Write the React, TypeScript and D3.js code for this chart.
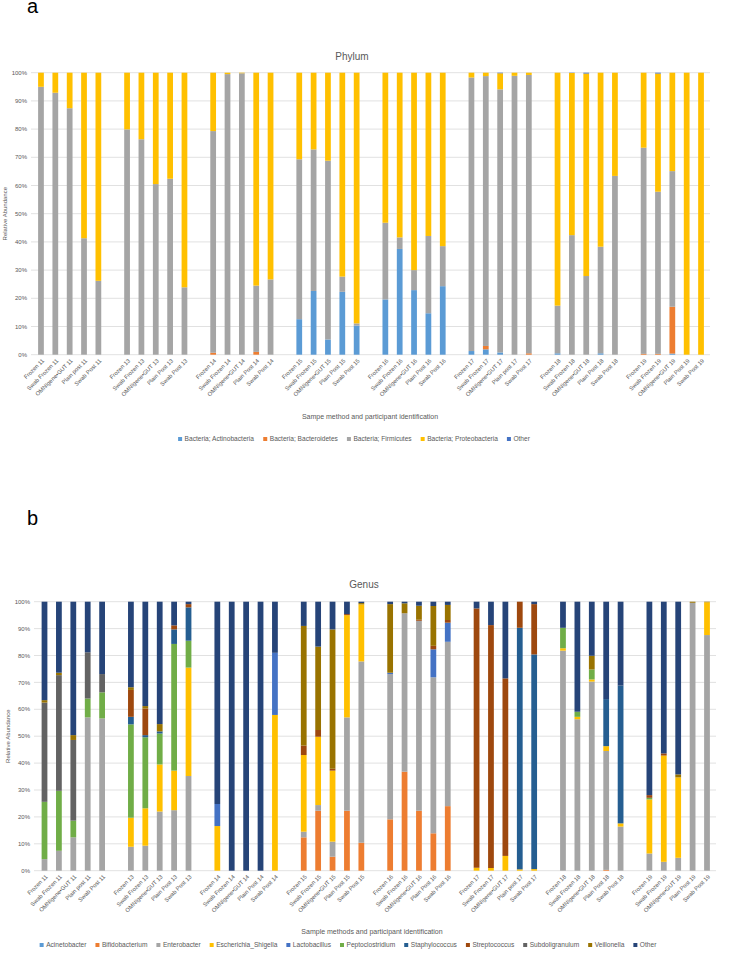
import React from 'react';
import * as d3 from 'd3';

// ---------- categories ----------
const participants = ['11', '13', '14', '15', '16', '17', '18', '19'];
const sampleLabels = [
  'Frozen 11', 'Swab Frozen 11', 'OMNIgene•GUT 11', 'Plain post 11', 'Swab Post 11',
  'Frozen 13', 'Swab Frozen 13', 'OMNIgene•GUT 13', 'Plain Post 13', 'Swab Post 13',
  'Frozen 14', 'Swab Frozen 14', 'OMNIgene•GUT 14', 'Plain Post 14', 'Swab Post 14',
  'Frozen 15', 'Swab Frozen 15', 'OMNIgene•GUT 15', 'Plain Post 15', 'Swab Post 15',
  'Frozen 16', 'Swab Frozen 16', 'OMNIgene•GUT 16', 'Plain Post 16', 'Swab Post 16',
  'Frozen 17', 'Swab Frozen 17', 'OMNIgene•GUT 17', 'Plain post 17', 'Swab Post 17',
  'Frozen 18', 'Swab Frozen 18', 'OMNIgene•GUT 18', 'Plain Post 18', 'Swab Post 18',
  'Frozen 19', 'Swab Frozen 19', 'OMNIgene•GUT 19', 'Plain Post 19', 'Swab Post 19',
];
const yTicks = [0, 10, 20, 30, 40, 50, 60, 70, 80, 90, 100];

// ---------- Phylum ----------
const phylumNames = ['Bacteria; Actinobacteria', 'Bacteria; Bacteroidetes', 'Bacteria; Firmicutes', 'Bacteria; Proteobacteria', 'Other'];
const phylumColors = ['#5B9BD5', '#ED7D31', '#A5A5A5', '#FFC000', '#4472C4'];
const actinobacteria = [
  0, 0, 0, 0, 0,
  0, 0, 0, 0, 0,
  0, 0, 0, 0, 0,
  12.6, 22.6, 5.4, 22.3, 10.3,
  19.6, 37.5, 22.9, 14.7, 24.3,
  1.3, 1.9, 0.8, 0, 0,
  0.5, 0, 0, 0.5, 0,
  0, 0, 0.4, 0, 0,
];
const bacteroidetes = [
  0, 0, 0, 0, 0,
  0, 0, 0, 0, 0,
  0.7, 0, 0, 1.0, 0,
  0, 0, 0, 0, 0,
  0, 0, 0, 0, 0,
  0, 1.2, 0, 0, 0.5,
  0, 0, 0, 0, 0,
  0.3, 0.3, 16.6, 0, 0,
];
const firmicutes = [
  95, 92.9, 87.4, 41.3, 26.2,
  79.9, 76.4, 60.5, 62.4, 23.9,
  78.6, 99.5, 99.8, 23.5, 26.7,
  56.7, 50.2, 63.4, 5.4, 0.8,
  27.2, 4.1, 7.1, 27.4, 14.2,
  97.0, 95.7, 93.3, 98.9, 98.7,
  16.9, 42.4, 27.9, 37.8, 63.4,
  73.1, 57.5, 48.1, 0, 0,
];
const proteobacteria = [
  5, 7.1, 12.6, 58.7, 73.8,
  20.1, 23.6, 39.5, 37.6, 76.1,
  20.7, 0.5, 0.2, 75.5, 73.3,
  30.7, 27.2, 31.2, 72.3, 88.9,
  53.2, 58.4, 70, 57.9, 61.5,
  1.7, 1.2, 5.7, 1.1, 0.8,
  82.6, 57.5, 71.8, 61.7, 36.6,
  26.6, 41.9, 34.9, 100, 100,
];
const phylumOther = [
  0, 0, 0, 0, 0,
  0, 0, 0, 0, 0,
  0, 0, 0, 0, 0,
  0, 0, 0, 0, 0,
  0, 0, 0, 0, 0,
  0, 0, 0.2, 0, 0,
  0, 0.1, 0.3, 0, 0,
  0, 0.3, 0, 0, 0,
];

// ---------- Genus ----------
const genusNames = ['Acinetobacter', 'Bifidobacterium', 'Enterobacter', 'Escherichia_Shigella', 'Lactobacillus', 'Peptoclostridium', 'Staphylococcus', 'Streptococcus', 'Subdoligranulum', 'Veillonella', 'Other'];
const genusColors = ['#5B9BD5', '#ED7D31', '#A5A5A5', '#FFC000', '#4472C4', '#70AD47', '#255E91', '#9E480E', '#636363', '#997300', '#264478'];
const acinetobacter = [
  0, 0, 0, 0, 0, 0, 0, 0, 0, 0, 0, 0, 0, 0, 0, 0, 0, 0, 0, 0,
  0, 0, 0, 0, 0, 0, 0, 0, 0, 0, 0, 0, 0, 0, 0, 0, 0, 0, 0, 0,
];
const bifidobacterium = [
  0, 0, 0, 0, 0,
  0, 0, 0, 0, 0,
  0, 0, 0, 0, 0,
  12.4, 22.3, 5.2, 22.3, 10.4,
  19.1, 36.8, 22.3, 13.9, 24,
  0, 0, 0, 0, 0,
  0, 0, 0, 0.3, 0,
  0, 0, 0, 0, 0,
];
const enterobacter = [
  4.3, 7.4, 12.4, 57, 56.6,
  8.9, 9.3, 22, 22.5, 35.2,
  0, 0, 0, 0, 0,
  2.1, 2.1, 5.6, 34.7, 67.4,
  54, 58.9, 70.6, 58, 61.1,
  0, 0, 0, 0, 0,
  81.8, 56.3, 70.3, 44.2, 16.4,
  6.4, 3.3, 4.8, 99.6, 87.6,
];
const escherichiaShigella = [
  0, 0, 0, 0, 0,
  10.8, 13.9, 17.5, 14.7, 40.3,
  16.6, 0, 0, 0, 57.9,
  28.5, 25.4, 26.4, 38, 21.2,
  0, 0, 0, 0, 0,
  1.1, 1, 5.5, 0.5, 0.6,
  0.9, 0.9, 0.8, 1.8, 1.2,
  20.1, 39.5, 29.9, 0, 12.2,
];
const lactobacillus = [
  0, 0, 0, 0, 0,
  0, 0, 0, 0, 0,
  8.2, 0, 0, 0, 23.1,
  0, 0, 0, 0, 0,
  0.5, 0, 0, 10.4, 7.1,
  0, 0, 0, 0, 0,
  0, 0, 0, 0, 0,
  0, 0, 0, 0, 0,
];
const peptoclostridium = [
  21.3, 22.3, 6.2, 7, 9.7,
  34.7, 26.4, 11.5, 47.1, 10,
  0, 0, 0, 0, 0,
  0, 0, 0, 0, 0,
  0, 0, 0, 0, 0,
  0, 0, 0, 0, 0,
  7.6, 1.9, 3.7, 0, 0,
  0.6, 0, 0, 0, 0,
];
const staphylococcus = [
  0, 0, 0, 0, 0,
  2.8, 0.8, 0.8, 5.4, 12.4,
  0, 0, 0, 0, 0,
  0, 0, 0, 0, 0,
  0, 0, 0, 0, 0,
  0, 0, 0, 89.8, 79.8,
  0, 0, 0, 17.5, 51.2,
  0, 0, 0, 0, 0,
];
const streptococcus = [
  0, 0, 0, 0, 0,
  10, 9.9, 0, 1.5, 1.2,
  0, 0, 0, 0, 0,
  3.5, 2.5, 0.7, 0.4, 0,
  0, 0, 0.4, 1.3, 1,
  96.4, 90.3, 66, 9.7, 18.7,
  0, 0, 0, 0, 0,
  1, 0.8, 0, 0, 0,
];
const subdoligranulum = [
  36.9, 43, 30, 17.2, 6.8,
  0, 0, 0, 0, 0,
  0, 0, 0, 0, 0,
  0, 0, 0, 0, 0,
  0, 0, 0, 0, 0,
  0, 0, 0, 0, 0,
  0, 0, 0, 0, 0,
  0, 0, 0, 0, 0,
];
const veillonella = [
  0.9, 0.9, 1.8, 0, 0,
  1, 0.9, 2.7, 0, 0,
  0, 0, 0, 0, 0,
  44.5, 31, 51.8, 0, 0.5,
  25.5, 3.7, 5.2, 14.8, 5.6,
  0, 0, 0, 0, 0,
  0, 0, 5.1, 0, 0,
  0, 0, 1.1, 0.4, 0.2,
];
const genusOther = [
  36.6, 26.4, 49.6, 18.8, 26.9,
  31.8, 38.8, 45.5, 8.8, 0.9,
  75.2, 100, 100, 100, 19,
  9, 16.7, 10.3, 4.6, 0.5,
  0.9, 0.6, 1.5, 1.6, 1.2,
  2.5, 8.7, 28.5, 0, 0.9,
  9.7, 40.9, 20.1, 36.2, 31.2,
  71.9, 56.4, 64.2, 0, 0,
];

const phylumValues = [actinobacteria, bacteroidetes, firmicutes, proteobacteria, phylumOther];
const genusValues = [acinetobacter, bifidobacterium, enterobacter, escherichiaShigella, lactobacillus, peptoclostridium, staphylococcus, streptococcus, subdoligranulum, veillonella, genusOther];

const FONT = "'Liberation Sans', Arial, sans-serif";
const TEXT = '#595959';

let canvasCtx: CanvasRenderingContext2D | null = null;
function measure(text: string, size: number) {
  if (!canvasCtx) canvasCtx = document.createElement('canvas').getContext('2d');
  if (!canvasCtx) return text.length * size * 0.5;
  canvasCtx.font = `${size}px ${FONT}`;
  return canvasCtx.measureText(text).width;
}

type ChartProps = {
  names: string[];
  colors: string[];
  values: number[][];
  title: string;
  titleX: number;
  titleY: number;
  xTitle: string;
  xTitleX: number;
  xTitleY: number;
  legendY: number;
  legendCx: number;
  rangeX: [number, number];
  gridX: [number, number];
  y0: number;
  y100: number;
  yTitleX: number;
};

function StackedChart(p: ChartProps) {
  const nSlots = sampleLabels.length + participants.length - 1;
  const slotOf = (i: number) => i + Math.floor(i / 5);
  const x = d3.scaleBand<number>().domain(d3.range(nSlots)).range(p.rangeX).paddingInner(0.6).paddingOuter(0.3);
  const y = d3.scaleLinear().domain([0, 100]).range([p.y0, p.y100]);

  const rows = sampleLabels.map((label, i) => {
    const r: Record<string, number | string> = { label, idx: i };
    p.names.forEach((n, k) => { r[n] = p.values[k][i]; });
    return r;
  });
  const stack = d3.stack<Record<string, number | string>>().keys(p.names).value((d, key) => Number(d[key]) || 0);
  const series = stack(rows);

  // legend layout
  const lfs = 6.6;
  const sq = 4;
  const items = p.names.map((n) => ({ n, w: sq + 2.5 + measure(n, lfs) }));
  const gap = 9;
  const total = d3.sum(items, (d) => d.w) + gap * (items.length - 1);
  let lx = p.legendCx - total / 2;
  const legendPos = items.map((it) => { const pos = lx; lx += it.w + gap; return pos; });

  return (
    <g>
      {yTicks.map((t) => (
        <g key={t}>
          <line x1={p.gridX[0]} x2={p.gridX[1]} y1={y(t)} y2={y(t)} stroke="#D9D9D9" strokeWidth={0.8} />
          <text x={p.gridX[0] - 4} y={y(t)} dy="0.35em" textAnchor="end" fontSize={6} fill={TEXT}>{t}%</text>
        </g>
      ))}
      {series.map((s, k) => (
        <g key={s.key} fill={p.colors[k]}>
          {s.map((d, i) => {
            const h = y(d[0]) - y(d[1]);
            if (h <= 0) return null;
            return <rect key={i} x={x(slotOf(i))} width={x.bandwidth()} y={y(d[1])} height={h} />;
          })}
        </g>
      ))}
      {sampleLabels.map((lab, i) => {
        const cx = (x(slotOf(i)) ?? 0) + x.bandwidth() / 2;
        return (
          <text key={lab} transform={`translate(${cx + 2},${p.y0 + 5}) rotate(-45)`} textAnchor="end" dy="0.35em" fontSize={5.8} fill={TEXT}>{lab}</text>
        );
      })}
      <text x={p.titleX} y={p.titleY} textAnchor="middle" dy="0.35em" fontSize={10} fill={TEXT}>{p.title}</text>
      <text transform={`translate(${p.yTitleX},${(p.y0 + p.y100) / 2}) rotate(-90)`} textAnchor="middle" dy="0.35em" fontSize={6} fill={TEXT}>Relative Abundance</text>
      <text x={p.xTitleX} y={p.xTitleY} textAnchor="middle" dy="0.35em" fontSize={7} fill={TEXT}>{p.xTitle}</text>
      {items.map((it, k) => (
        <g key={it.n} transform={`translate(${legendPos[k]},${p.legendY})`}>
          <rect x={0} y={-sq / 2} width={sq} height={sq} fill={p.colors[k]} />
          <text x={sq + 2.5} y={0} dy="0.35em" fontSize={lfs} fill={TEXT}>{it.n}</text>
        </g>
      ))}
    </g>
  );
}

export default function App() {
  return (
    <svg width={730} height={959} style={{ position: 'absolute', left: 0, top: 0, background: '#fff', fontFamily: FONT }}>
      <rect width={730} height={959} fill="#fff" />
      <text x={27} y={13} fontSize={20} fill="#000">a</text>
      <text x={27} y={525} fontSize={20} fill="#000">b</text>
      <StackedChart
        names={phylumNames}
        colors={phylumColors}
        values={phylumValues}
        title="Phylum"
        titleX={352}
        titleY={56}
        xTitle="Sampe method and participant identification"
        xTitleX={370}
        xTitleY={417}
        legendY={439}
        legendCx={354}
        rangeX={[33.8, 708.2]}
        gridX={[31, 710]}
        y0={354.7}
        y100={72.7}
        yTitleX={5}
      />
      <StackedChart
        names={genusNames}
        colors={genusColors}
        values={genusValues}
        title="Genus"
        titleX={364}
        titleY={584}
        xTitle="Sample methods and participant identification"
        xTitleX={372}
        xTitleY={932}
        legendY={945}
        legendCx={348}
        rangeX={[37.3, 714.2]}
        gridX={[34, 716]}
        y0={870.7}
        y100={601.7}
        yTitleX={8}
      />
    </svg>
  );
}
